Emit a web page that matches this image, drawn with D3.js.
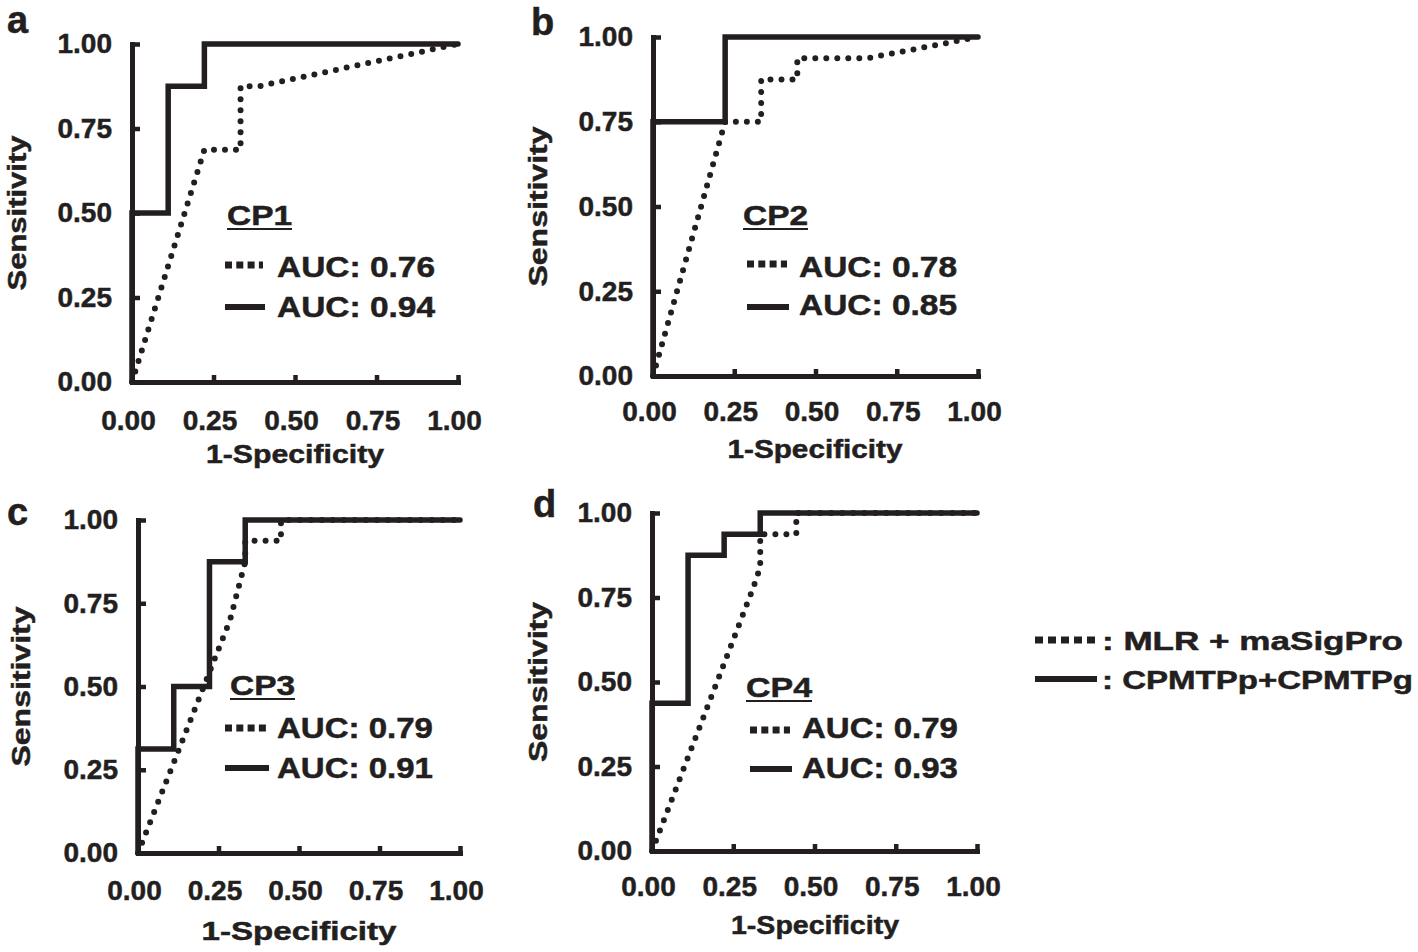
<!DOCTYPE html>
<html><head><meta charset="utf-8">
<script src="https://cdn.jsdelivr.net/npm/d3@7"></script>
<style>
body{margin:0;background:#fff}
svg{display:block}
text{font-family:"Liberation Sans",Arial,Helvetica,sans-serif;font-weight:bold;fill:#231f20;stroke:#231f20;stroke-width:0.5px}
</style>
</head><body>
<svg id="chart" width="1418" height="952"></svg>
<script>
// ---------- data ----------
const panelLetters = ['a','b','c','d'];
const panelNames   = ['CP1','CP2','CP3','CP4'];
const aucMlr = ['0.76','0.78','0.79','0.79'];
const aucCpm = ['0.94','0.85','0.91','0.93'];
const tickValues = [0, 0.25, 0.5, 0.75, 1];
const tickLabels = ['0.00','0.25','0.50','0.75','1.00'];
const xTitle = '1-Specificity';
const yTitle = 'Sensitivity';
const seriesNames = ['MLR + maSigPro', 'CPMTPp+CPMTPg'];

// ROC curves (1-specificity, sensitivity)
const cp1MlrFpr = [0, 0.222, 0.333, 0.333, 0.389, 1];
const cp1MlrTpr = [0, 0.6875, 0.6875, 0.875, 0.875, 1];
const cp1CpmFpr = [0, 0, 0.111, 0.111, 0.222, 0.222, 1];
const cp1CpmTpr = [0, 0.5, 0.5, 0.875, 0.875, 1, 1];

const cp2MlrFpr = [0, 0.222, 0.333, 0.333, 0.444, 0.444, 0.66, 1];
const cp2MlrTpr = [0, 0.75, 0.75, 0.875, 0.875, 0.9375, 0.9375, 1];
const cp2CpmFpr = [0, 0, 0.222, 0.222, 1];
const cp2CpmTpr = [0, 0.75, 0.75, 1, 1];

const cp3MlrFpr = [0, 0.286, 0.333, 0.333, 0.444, 0.444, 1];
const cp3MlrTpr = [0, 0.70, 0.875, 0.9375, 0.9375, 1, 1];
const cp3CpmFpr = [0, 0, 0.111, 0.111, 0.222, 0.222, 0.333, 0.333, 1];
const cp3CpmTpr = [0, 0.3125, 0.3125, 0.5, 0.5, 0.875, 0.875, 1, 1];

const cp4MlrFpr = [0, 0.312, 0.333, 0.333, 0.444, 0.444, 1];
const cp4MlrTpr = [0, 0.78, 0.84, 0.9375, 0.9375, 1, 1];
const cp4CpmFpr = [0, 0, 0.111, 0.111, 0.222, 0.222, 0.333, 0.333, 1];
const cp4CpmTpr = [0, 0.4375, 0.4375, 0.875, 0.875, 0.9375, 0.9375, 1, 1];

const curves = [
  {mlr:[cp1MlrFpr,cp1MlrTpr], cpm:[cp1CpmFpr,cp1CpmTpr]},
  {mlr:[cp2MlrFpr,cp2MlrTpr], cpm:[cp2CpmFpr,cp2CpmTpr]},
  {mlr:[cp3MlrFpr,cp3MlrTpr], cpm:[cp3CpmFpr,cp3CpmTpr]},
  {mlr:[cp4MlrFpr,cp4MlrTpr], cpm:[cp4CpmFpr,cp4CpmTpr]}
];

// ---------- layout ----------
const INK = '#231f20';
const layout = [
  {x0:132,x1:458,top:44,bot:382, pad:28, let:[7,33],  cp:[227,225,65], mk:[225,263,265,307], tx:[277,277,317,158], xt:[295,463,178], yt:[26,155]},
  {x0:653,x1:978,top:37,bot:376, pad:25, let:[531,35], cp:[743,225,65], mk:[747,787,264,307], tx:[799,277,315,158], xt:[815,458,175], yt:[547,160]},
  {x0:138,x1:460,top:520,bot:853,pad:27, let:[7,525], cp:[230,695,65], mk:[225,267,728,768], tx:[277,738,778,156], xt:[299,940,195], yt:[30,160]},
  {x0:652,x1:977,top:513,bot:851,pad:25, let:[533,517],cp:[746,697,66], mk:[750,790,730,769], tx:[802,738,778,156], xt:[815,934,168], yt:[547,160]}
];

const svg = d3.select('#chart');
svg.append('rect').attr('width',1418).attr('height',952).attr('fill','#fff');

layout.forEach((L, i) => {
  const x = d3.scaleLinear().domain([0,1]).range([L.x0, L.x1]);
  const y = d3.scaleLinear().domain([0,1]).range([L.bot, L.top]);
  const g = svg.append('g');

  const line = d3.line().x(d => x(d[0])).y(d => y(d[1]));
  const c = curves[i];
  // dotted: MLR + maSigPro
  g.append('path').datum(d3.zip(c.mlr[0], c.mlr[1])).attr('d', line)
    .attr('fill','none').attr('stroke',INK).attr('stroke-width',6)
    .attr('stroke-linecap','round').attr('stroke-dasharray','0 11');
  // solid: CPMTPp+CPMTPg
  g.append('path').datum(d3.zip(c.cpm[0], c.cpm[1])).attr('d', line)
    .attr('fill','none').attr('stroke',INK).attr('stroke-width',5.5)
    .attr('stroke-linejoin','miter').attr('stroke-linecap','round');

  // axes
  const ax = g.append('g').attr('transform',`translate(0,${L.bot})`)
    .call(d3.axisBottom(x).tickValues(tickValues).tickFormat((d,k)=>tickLabels[k])
      .tickSizeInner(-7).tickSizeOuter(0).tickPadding(L.pad));
  const ay = g.append('g').attr('transform',`translate(${L.x0},0)`)
    .call(d3.axisLeft(y).tickValues(tickValues).tickFormat((d,k)=>tickLabels[k])
      .tickSizeInner(-8).tickSizeOuter(0).tickPadding(20));
  [ax, ay].forEach(a => {
    a.select('.domain').attr('stroke',INK).attr('stroke-width',5).attr('stroke-linecap','square');
    a.selectAll('.tick line').attr('stroke',INK).attr('stroke-width',4.5);
    a.selectAll('.tick text').attr('font-size',28).attr('fill',INK)
      .style('font-family','"Liberation Sans",Arial,sans-serif').style('font-weight','bold');
  });
  ax.selectAll('.tick text').attr('dx',-4);

  // axis titles
  g.append('text').attr('x',L.xt[0]).attr('y',L.xt[1]).attr('text-anchor','middle')
    .attr('font-size',26).attr('textLength',L.xt[2]).attr('lengthAdjust','spacingAndGlyphs')
    .text(xTitle);
  const ymid = (L.top + L.bot)/2;
  g.append('text').attr('transform',`translate(${L.yt[0]},${ymid}) rotate(-90)`)
    .attr('text-anchor','middle').attr('font-size',26)
    .attr('textLength',L.yt[1]).attr('lengthAdjust','spacingAndGlyphs')
    .text(yTitle);

  // panel letter
  g.append('text').attr('x',L.let[0]).attr('y',L.let[1]).attr('font-size',38).text(panelLetters[i]);

  // in-panel legend
  g.append('text').attr('x',L.cp[0]).attr('y',L.cp[1]).attr('font-size',28)
    .attr('textLength',L.cp[2]).attr('lengthAdjust','spacingAndGlyphs').text(panelNames[i]);
  g.append('line').attr('x1',L.cp[0]).attr('x2',L.cp[0]+L.cp[2])
    .attr('y1',L.cp[1]+4).attr('y2',L.cp[1]+4).attr('stroke',INK).attr('stroke-width',2);
  g.append('line').attr('x1',L.mk[0]).attr('x2',L.mk[1]).attr('y1',L.mk[2]).attr('y2',L.mk[2])
    .attr('stroke',INK).attr('stroke-width',7).attr('stroke-dasharray','7 4.3');
  g.append('line').attr('x1',L.mk[0]).attr('x2',L.mk[1]+2).attr('y1',L.mk[3]).attr('y2',L.mk[3])
    .attr('stroke',INK).attr('stroke-width',6);
  g.append('text').attr('x',L.tx[0]).attr('y',L.tx[1]).attr('font-size',29)
    .attr('textLength',L.tx[3]).attr('lengthAdjust','spacingAndGlyphs').text('AUC: ' + aucMlr[i]);
  g.append('text').attr('x',L.tx[0]).attr('y',L.tx[2]).attr('font-size',29)
    .attr('textLength',L.tx[3]).attr('lengthAdjust','spacingAndGlyphs').text('AUC: ' + aucCpm[i]);
});

// global legend
const lg = svg.append('g');
lg.append('line').attr('x1',1035).attr('x2',1095).attr('y1',640).attr('y2',640)
  .attr('stroke',INK).attr('stroke-width',7).attr('stroke-dasharray','8 5');
lg.append('text').attr('x',1102).attr('y',650).attr('font-size',26)
  .attr('textLength',301).attr('lengthAdjust','spacingAndGlyphs').text(': ' + seriesNames[0]);
lg.append('line').attr('x1',1035).attr('x2',1097).attr('y1',679).attr('y2',679)
  .attr('stroke',INK).attr('stroke-width',6);
lg.append('text').attr('x',1102).attr('y',689).attr('font-size',26)
  .attr('textLength',311).attr('lengthAdjust','spacingAndGlyphs').text(': ' + seriesNames[1]);
</script>
</body></html>
